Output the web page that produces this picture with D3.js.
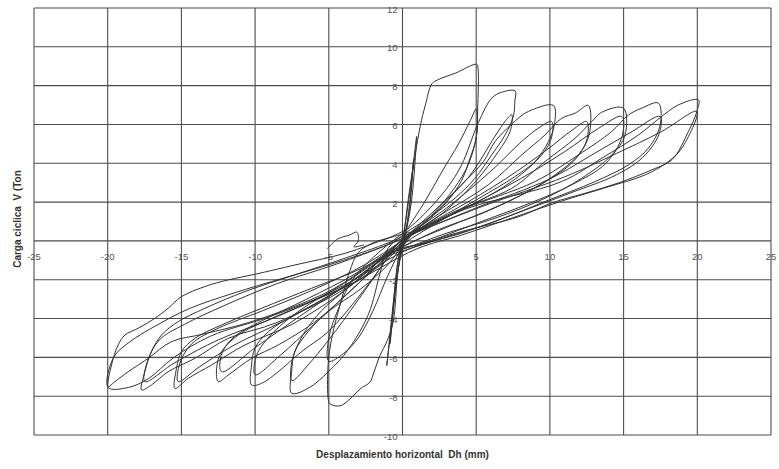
<!DOCTYPE html>
<html>
<head>
<meta charset="utf-8">
<script src="https://cdn.jsdelivr.net/npm/d3@7"></script>
<style>
  html, body { margin: 0; padding: 0; background: #fff; }
  svg { display: block; }
  .title { white-space: pre; }
</style>
</head>
<body>
<div id="chart"></div>
<script>
// ejes
const xTicks = [-25, -20, -15, -10, -5, 0, 5, 10, 15, 20, 25];
const yTicks = [-10, -8, -6, -4, -2, 0, 2, 4, 6, 8, 10, 12];
const xTitle = "Desplazamiento horizontal  Dh (mm)";
const yTitle = "Carga ciclica  V (Ton";

// ciclos [desplazamiento mm, carga ton]
const loop0 = [[0,0],[0.5,2.5],[0.96,5.38],[0.9,4.6],[0.6,2.0],[0.2,0.3],[-0.3,-1.5],[-0.7,-4.0],[-1.07,-6.43],[-0.95,-5.6],[-0.6,-3.0],[-0.2,-0.6],[0.2,0.4]];
const loop0b = [[0.2,0.4],[0.5,2.0],[0.75,4.2],[0.7,3.6],[0.4,1.2],[0,-0.2],[-0.4,-2.0],[-0.8,-5.0],[-0.85,-5.3],[-0.7,-4.0],[-0.3,-1.0],[0.1,0.3]];
const loopA = [[0.1,0.3],[0.4,2.2],[0.85,4.4],[1.2,5.9],[1.55,7.0],[2.0,8.1],[2.4,8.3],[3.6,8.65],[5.03,9.1],[5.12,8.9],[5.1,6.8],[5.0,5.3],[4.6,4.3],[4.0,3.1],[3.0,2.0],[1.8,1.1],[0.7,0.4],[0,-0.3],[-0.3,-1.5],[-0.64,-4.2],[-1.07,-5.2],[-1.53,-5.9],[-1.98,-6.86],[-2.2,-7.27],[-2.88,-7.63],[-3.56,-8.14],[-4.24,-8.5],[-4.92,-8.4],[-5.03,-8.2],[-5.05,-6.4],[-4.8,-5.0],[-4.13,-3.0],[-3.6,-1.6],[-3.0,-0.6],[-2.0,-0.1],[-0.8,0.2],[0.3,0.6]];
const loopA2 = [[0.3,0.6],[1.5,2.0],[2.7,3.6],[3.8,5.0],[4.6,6.2],[5.0,6.8],[5.05,5.6],[4.5,4.0],[3.5,2.7],[2.2,1.5],[1.0,0.6],[0,-0.3],[-1,-1.8],[-2,-3.6],[-3,-5.0],[-4,-5.8],[-5.0,-6.2],[-5.0,-5.0],[-4.3,-3.4],[-3.4,-2.0],[-2.2,-1.0],[-1,-0.2],[0.2,0.5]];
const bump = [[-5.1,-0.4],[-4.4,0.1],[-3.6,0.3],[-3.1,0.45],[-3.0,0.0],[-3.3,-0.3],[-2.6,-0.2]];
const loopB = [[0.2,0.5],[1.5,1.4],[3.0,2.7],[4.0,3.9],[5.15,6.1],[6.05,7.35],[6.73,7.66],[7.64,7.73],[7.62,7.2],[7.52,6.41],[6.96,5.46],[6.05,4.43],[4.92,3.23],[3.56,2.2],[1.75,1.17],[0.2,0.4],[-1.0,-0.4],[-1.5,-1.6],[-2.32,-3.8],[-3.68,-5.6],[-5.03,-6.74],[-6.39,-7.59],[-7.52,-7.85],[-7.52,-6.74],[-7.3,-5.7],[-6.39,-4.67],[-5.03,-3.64],[-2.77,-2.44],[-0.96,-1.2],[0,-0.2],[0.5,0.4]];
const loopB2 = [[0.5,0.4],[2.5,1.8],[4.5,3.3],[6.28,5.4],[7.0,6.2],[7.41,6.5],[7.3,5.64],[6.5,4.6],[5.0,3.1],[3.0,1.6],[1.0,0.5],[-0.5,-0.4],[-2.5,-2.5],[-4.5,-4.6],[-6.3,-6.3],[-7.5,-7.2],[-7.5,-6.2],[-6.8,-4.9],[-5.5,-3.6],[-3.5,-2.3],[-1.5,-1.0],[0.3,0.3]];
const loopC = [[0.5,0.4],[2.0,1.3],[4.02,2.9],[5.5,4.1],[6.28,5.12],[7.86,6.32],[8.54,6.67],[10.24,6.98],[10.3,5.98],[9.9,5.12],[9.0,4.09],[7.41,3.06],[5.15,2.03],[2.88,1.17],[0.62,0.3],[-0.5,-0.3],[-1.5,-1.4],[-3.0,-2.9],[-5.03,-4.67],[-6.84,-5.7],[-8.43,-6.74],[-9.56,-7.34],[-10.24,-7.42],[-10.24,-6.39],[-10.01,-5.53],[-9.1,-4.67],[-7.3,-3.81],[-5.03,-2.96],[-2.32,-1.7],[-0.8,-0.8],[0.3,0.2]];
const loopC2 = [[0.3,0.3],[3,1.7],[6,3.6],[8.2,5.2],[9.4,5.9],[10.12,6.15],[10.1,5.3],[9.3,4.3],[7.6,3.3],[5.2,2.2],[2.5,1.0],[0,-0.2],[-3,-2.2],[-6,-4.3],[-8.3,-5.9],[-10.0,-6.9],[-9.9,-5.9],[-9.0,-4.9],[-7.0,-3.6],[-4.0,-2.2],[-1.5,-0.9],[0.3,0.3]];
const loopD = [[0.3,0.2],[2.5,1.3],[5.82,2.89],[8.09,4.43],[9.67,5.46],[10.8,6.32],[11.71,6.58],[12.61,6.98],[12.66,5.46],[11.93,4.43],[10.35,3.4],[8.09,2.37],[5.15,1.34],[2.5,0.6],[0.3,-0.2],[-1.0,-0.6],[-3.0,-2.2],[-6.0,-4.2],[-8.43,-5.36],[-10.24,-6.05],[-11.82,-6.91],[-12.5,-7.25],[-12.61,-6.56],[-12.27,-5.7],[-11.14,-4.85],[-8.88,-3.99],[-6.17,-3.13],[-2.77,-1.92],[-0.8,-0.6],[0.5,0.3]];
const loopD2 = [[0.3,0.3],[3.5,1.6],[7,3.2],[9.8,4.7],[11.5,5.7],[12.5,6.15],[12.5,5.2],[11.6,4.1],[9.6,3.0],[6.5,1.8],[3.0,0.7],[0,-0.3],[-3.5,-2.1],[-7,-3.9],[-10,-5.5],[-12.27,-6.74],[-12.3,-5.9],[-11.5,-5.0],[-9.5,-4.1],[-6.5,-3.0],[-3.0,-1.6],[0.3,0.2]];
const loopE = [[0.5,0.3],[3.5,1.5],[7.41,2.71],[9.67,4.09],[11.71,5.29],[12.84,6.15],[13.52,6.63],[14.99,6.84],[15.1,5.46],[14.2,4.43],[12.16,3.23],[9.67,2.2],[6.28,1.17],[3.0,0.4],[0.5,-0.3],[-1.0,-0.7],[-4.0,-2.6],[-7.5,-4.3],[-10.69,-5.36],[-12.95,-6.39],[-14.53,-7.08],[-15.44,-7.6],[-15.33,-6.56],[-14.99,-5.7],[-14.08,-5.02],[-12.27,-4.33],[-9.56,-3.47],[-6.17,-2.44],[-2.77,-1.41],[-0.51,-0.4],[0.8,0.4]];
const loopE2 = [[0.3,0.2],[4,1.6],[8,3.2],[11,4.6],[13.3,5.8],[14.88,6.41],[14.9,5.4],[13.8,4.0],[11.5,2.9],[8.5,1.9],[5,0.9],[1.5,-0.1],[-0.5,-0.5],[-4,-2.4],[-8,-4.1],[-11.5,-5.4],[-13.8,-6.5],[-15.22,-7.25],[-15.1,-6.3],[-14.3,-5.3],[-12.5,-4.5],[-9.5,-3.6],[-6,-2.5],[-2.5,-1.2],[0.5,0.3]];
const loopF = [[0.8,0.4],[4.0,1.6],[9.0,3.06],[11.93,4.43],[14.2,5.64],[15.33,6.49],[16.23,6.84],[17.36,7.1],[17.48,5.98],[16.68,4.78],[15.33,3.92],[13.07,3.06],[9.67,2.03],[6.28,1.0],[3.0,0.2],[0.5,-0.4],[-1.0,-0.8],[-4.5,-2.6],[-8.5,-4.2],[-11.82,-5.02],[-14.08,-6.05],[-15.9,-6.74],[-17.03,-7.42],[-17.7,-7.68],[-17.48,-6.74],[-17.03,-5.7],[-16.35,-4.85],[-15.22,-4.16],[-13.4,-3.47],[-10.69,-2.61],[-7.3,-1.75],[-3.9,-0.89],[-0.96,-0.1],[0.8,0.5]];
const loopF2 = [[0.5,0.3],[5,1.7],[10,3.2],[13,4.5],[15.5,5.6],[17.48,6.41],[17.4,5.5],[16.3,4.3],[14.5,3.4],[11.5,2.5],[8,1.5],[4,0.4],[0.5,-0.4],[-4,-2.3],[-8.5,-3.9],[-12.5,-5.1],[-15.5,-6.3],[-17.48,-7.25],[-17.3,-6.2],[-16.5,-5.1],[-14.8,-4.3],[-12,-3.3],[-8.5,-2.2],[-4.5,-1.2],[-1,-0.2],[0.8,0.4]];
const loopG = [[0.8,0.5],[4.5,1.7],[10.8,3.06],[13.52,4.26],[16.01,5.46],[17.58,6.41],[18.72,7.01],[20.08,7.27],[19.97,6.67],[19.4,5.64],[18.3,4.2],[16.9,3.66],[14.7,3.0],[12.45,2.47],[10.14,1.96],[7.9,1.25],[4.02,0.48],[1.0,-0.2],[-1.0,-0.7],[-5.0,-2.6],[-10.0,-4.1],[-13.5,-4.8],[-15.67,-5.19],[-17.25,-6.05],[-18.61,-6.74],[-19.51,-7.25],[-19.97,-7.51],[-19.74,-6.39],[-19.29,-5.36],[-18.83,-4.85],[-17.93,-4.5],[-16.8,-3.99],[-15.9,-3.47],[-14.99,-2.87],[-13.4,-2.35],[-11.82,-2.01],[-10.01,-1.72],[-7.3,-1.24],[-3.9,-0.64],[-0.96,0.14],[0.8,0.5]];
const loopG2 = [[0.8,0.4],[5.5,1.8],[11,3.3],[14.5,4.5],[17.59,5.64],[19.97,6.67],[18.95,4.78],[18.04,4.09],[16.46,3.4],[13.8,2.75],[11,2.1],[7.5,1.2],[4,0.3],[1,-0.4],[-4,-2.4],[-9,-3.9],[-13,-4.9],[-15.5,-6.0],[-17.25,-7.1],[-18.6,-7.55],[-19.97,-7.55],[-19.6,-6.0],[-18.5,-5.2],[-16.8,-4.4],[-14.5,-3.5],[-11.5,-2.7],[-8,-1.9],[-4,-1.0],[-1,-0.2],[0.5,0.3]];

const loops = [loop0, loop0b, loopA, loopA2, bump, loopB, loopB2, loopC, loopC2, loopD, loopD2, loopE, loopE2, loopF, loopF2, loopG, loopG2];

const width = 779, height = 469;
const margin = { top: 8, right: 8, bottom: 34, left: 34 };

const svg = d3.select("#chart")
    .append("svg")
    .attr("width", width)
    .attr("height", height);

const x = d3.scaleLinear()
    .domain([-25, 25])
    .range([margin.left, width - margin.right]);

const y = d3.scaleLinear()
    .domain([-10, 12])
    .range([height - margin.bottom, margin.top]);

// rejilla
svg.append("g")
    .selectAll("line")
    .data(xTicks)
    .join("line")
    .attr("x1", d => x(d))
    .attr("x2", d => x(d))
    .attr("y1", y(-10))
    .attr("y2", y(12))
    .attr("stroke", "#4d4d4d")
    .attr("stroke-width", 1.1);

svg.append("g")
    .selectAll("line")
    .data(yTicks)
    .join("line")
    .attr("x1", x(-25))
    .attr("x2", x(25))
    .attr("y1", d => y(d))
    .attr("y2", d => y(d))
    .attr("stroke", "#4d4d4d")
    .attr("stroke-width", 1.1);

// etiquetas
svg.append("g")
    .selectAll("text")
    .data(xTicks.filter(d => d !== 0))
    .join("text")
    .attr("x", d => x(d))
    .attr("y", y(0) + 19)
    .attr("text-anchor", "middle")
    .attr("font-family", "Liberation Sans, Arial, sans-serif")
    .attr("font-size", "9.5px")
    .attr("fill", "#555")
    .text(d => d);

svg.append("g")
    .selectAll("text")
    .data(yTicks.filter(d => d !== 0))
    .join("text")
    .attr("x", x(0) - 5)
    .attr("y", d => y(d) + 4.5)
    .attr("text-anchor", "end")
    .attr("font-family", "Liberation Sans, Arial, sans-serif")
    .attr("font-size", "9.5px")
    .attr("fill", "#555")
    .text(d => d);

// curvas
const line = d3.line()
    .x(d => x(d[0]))
    .y(d => y(d[1]))
    .curve(d3.curveCatmullRom.alpha(0.5));

svg.append("g")
    .selectAll("path")
    .data(loops)
    .join("path")
    .attr("d", line)
    .attr("fill", "none")
    .attr("stroke", "#333")
    .attr("stroke-width", 1);

// titulos
svg.append("text")
    .attr("class", "title")
    .attr("x", x(0))
    .attr("y", 458)
    .attr("text-anchor", "middle")
    .attr("font-family", "Liberation Sans, Arial, sans-serif")
    .attr("font-size", "10px")
    .attr("font-weight", "bold")
    .attr("fill", "#333")
    .text(xTitle);

svg.append("text")
    .attr("class", "title")
    .attr("transform", "translate(21,219) rotate(-90)")
    .attr("text-anchor", "middle")
    .attr("font-family", "Liberation Sans, Arial, sans-serif")
    .attr("font-size", "10px")
    .attr("font-weight", "bold")
    .attr("fill", "#333")
    .text(yTitle);
</script>
</body>
</html>
